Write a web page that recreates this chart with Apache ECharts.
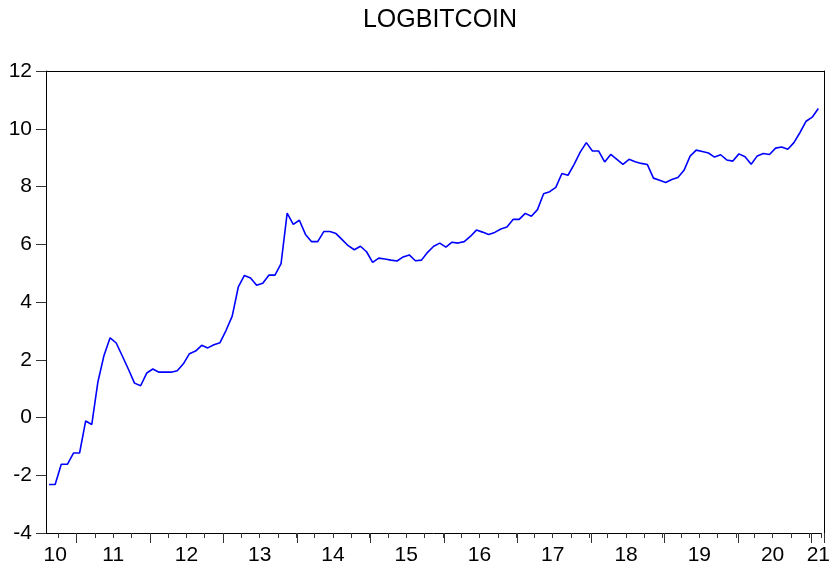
<!DOCTYPE html>
<html>
<head>
<meta charset="utf-8">
<title>LOGBITCOIN</title>
<script src="https://cdn.jsdelivr.net/npm/echarts@6/dist/echarts.min.js"></script>
<style>
  html, body { margin: 0; padding: 0; background: #fff; }
  #chart { width: 833px; height: 572px; }
</style>
</head>
<body>
<div id="chart"></div>
<script>
  // monthly obs, 2010M08 .. 2021M02
  var startYear = 2010, startMonth = 8, nObs = 127;
  var months = [];
  for (var k = 0; k < nObs; k++) {
    var m = startMonth - 1 + k;
    var yy = startYear + Math.floor(m / 12);
    var mm = (m % 12) + 1;
    months.push(yy + '-' + (mm < 10 ? '0' + mm : mm));
  }

  var logBitcoin = [
    -2.32, -2.32, -1.62, -1.62, -1.23, -1.23, -0.12, -0.24, 1.23, 2.15,
    2.76, 2.58, 2.13, 1.67, 1.19, 1.10, 1.54, 1.68, 1.57, 1.57,
    1.57, 1.62, 1.86, 2.21, 2.30, 2.50, 2.41, 2.52, 2.59, 3.02,
    3.51, 4.52, 4.92, 4.83, 4.58, 4.65, 4.93, 4.93, 5.33, 7.08,
    6.69, 6.83, 6.34, 6.09, 6.09, 6.44, 6.44, 6.37, 6.16, 5.95,
    5.81, 5.93, 5.74, 5.37, 5.52, 5.49, 5.45, 5.42, 5.56, 5.63,
    5.43, 5.45, 5.72, 5.93, 6.04, 5.90, 6.07, 6.04, 6.09, 6.27,
    6.49, 6.42, 6.34, 6.41, 6.53, 6.60, 6.86, 6.86, 7.07, 6.97,
    7.20, 7.75, 7.82, 7.97, 8.45, 8.39, 8.77, 9.19, 9.52, 9.23,
    9.23, 8.85, 9.11, 8.94, 8.77, 8.94, 8.86, 8.80, 8.76, 8.29,
    8.22, 8.14, 8.24, 8.31, 8.56, 9.05, 9.26, 9.21, 9.16, 9.02,
    9.10, 8.92, 8.88, 9.13, 9.03, 8.77, 9.06, 9.14, 9.11, 9.33,
    9.37, 9.29, 9.52, 9.87, 10.26, 10.40, 10.70
  ];

  // year labels and the month each one sits under
  var yearLabels = ['10', '11', '12', '13', '14', '15', '16', '17', '18', '19', '20', '21'];
  var yearLabelAt = ['2010-09', '2011-07', '2012-07', '2013-07', '2014-07', '2015-07',
                     '2016-07', '2017-07', '2018-07', '2019-07', '2020-07', '2021-02'];
  // labels that sit between Jun and Jul get nudged half a month left
  var midYearLabel = ['2011-07', '2012-07', '2013-07', '2014-07', '2015-07',
                      '2016-07', '2017-07', '2018-07', '2019-07', '2020-07'];
  var quarterStarts = ['01', '04', '07', '10'];

  var yTicks = { min: -4, max: 12, step: 2 };

  var chart = echarts.init(document.getElementById('chart'));
  var axisFont = { color: '#000', fontSize: 21, fontFamily: 'Liberation Sans, Arial, sans-serif' };
  var box = { left: 46, right: 9, top: 71, bottom: 39 };

  function monthOf(v) { return String(v).slice(5); }

  var option = {
    animation: false,
    backgroundColor: '#fff',
    title: {
      text: 'LOGBITCOIN',
      left: 435,
      textAlign: 'center',
      top: 3,
      textStyle: { color: '#000', fontSize: 25, fontWeight: 'normal', fontFamily: 'Liberation Sans, Arial, sans-serif' }
    },
    // three stacked copies of the same plot box: main, yearly ticks + right edge, top edge
    grid: [Object.assign({}, box), Object.assign({}, box), Object.assign({}, box)],
    xAxis: [
      {
        gridIndex: 0,
        type: 'category',
        data: months,
        position: 'bottom',
        axisLine: { onZero: false, lineStyle: { color: '#000', width: 1 } },
        axisTick: {
          show: true,
          length: 5,
          lineStyle: { color: '#333' },
          interval: function (i, v) { return quarterStarts.indexOf(monthOf(v)) >= 0; }
        },
        axisLabel: Object.assign({
          margin: 12,
          interval: function (i, v) { return yearLabelAt.indexOf(v) >= 0; },
          formatter: function (v) {
            var lab = yearLabels[yearLabelAt.indexOf(v)];
            return midYearLabel.indexOf(v) >= 0 ? '{s|' + lab + '}' : lab;
          },
          rich: { s: Object.assign({ padding: [0, 6, 0, 0] }, axisFont) }
        }, axisFont),
        splitLine: { show: false }
      },
      {
        gridIndex: 1,
        type: 'category',
        data: months,
        position: 'bottom',
        axisLine: { show: false, onZero: false },
        axisTick: {
          show: true,
          length: 10,
          lineStyle: { color: '#333' },
          interval: function (i, v) { return monthOf(v) === '01'; }
        },
        axisLabel: { show: false },
        splitLine: { show: false }
      },
      {
        gridIndex: 2,
        type: 'category',
        data: months,
        position: 'top',
        axisLine: { show: true, onZero: false, lineStyle: { color: '#000' } },
        axisTick: { show: false },
        axisLabel: { show: false },
        splitLine: { show: false }
      }
    ],
    yAxis: [
      {
        gridIndex: 0,
        type: 'value',
        position: 'left',
        min: yTicks.min,
        max: yTicks.max,
        interval: yTicks.step,
        axisLine: { show: true, onZero: false, lineStyle: { color: '#000' } },
        axisTick: { show: true, length: 10, lineStyle: { color: '#333' } },
        axisLabel: Object.assign({ margin: 14 }, axisFont),
        splitLine: { show: false }
      },
      {
        gridIndex: 1,
        type: 'value',
        position: 'right',
        min: yTicks.min,
        max: yTicks.max,
        interval: yTicks.step,
        axisLine: { show: true, onZero: false, lineStyle: { color: '#000' } },
        axisTick: { show: false },
        axisLabel: { show: false },
        splitLine: { show: false }
      },
      {
        gridIndex: 2,
        type: 'value',
        show: false,
        min: yTicks.min,
        max: yTicks.max
      }
    ],
    series: [
      {
        name: 'LOGBITCOIN',
        type: 'line',
        xAxisIndex: 0,
        yAxisIndex: 0,
        data: logBitcoin,
        symbol: 'none',
        z: 3,
        lineStyle: { color: '#0000ff', width: 1.6 }
      }
    ]
  };

  chart.setOption(option);
</script>
</body>
</html>
